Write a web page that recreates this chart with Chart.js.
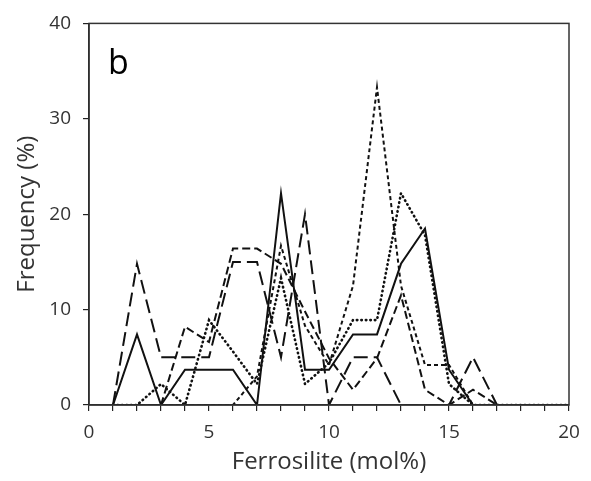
<!DOCTYPE html>
<html>
<head>
<meta charset="utf-8">
<script src="https://cdn.jsdelivr.net/npm/chart.js@4"></script>
<style>
  body { margin: 0; background: #fff; }
  canvas { display: block; }
</style>
</head>
<body>
<canvas id="chart" width="591" height="481"></canvas>
<script>
// Fs content (mol%) classes
const fsValues = [1, 2, 3, 4, 5, 6, 7, 8, 9, 10, 11, 12, 13, 14, 15, 16, 17, 18, 19, 20];

// frequency (%) per sample group
const solidSeries     = [0, 7.4, 0, 3.7, 3.7, 3.7, 0, 22.2, 3.7, 3.7, 7.4, 7.4, 14.8, 18.5, 3.7, 0, 0, 0, 0, 0];
const longDashSeries  = [0, 14.8, 5, 5, 5, 15, 15, 5, 20, 0, 5, 5, 0, 0, 0, 5, 0, 0, 0, 0];
const dashSeries      = [0, 0, 0, 8.2, 6.6, 16.4, 16.4, 14.8, 9.8, 4.9, 1.6, 4.9, 11.5, 1.6, 0, 1.6, 0, 0, 0, 0];
const shortDashSeries = [0, 0, 0, 0, 0, 0, 3, 16.7, 8.3, 4.2, 12.5, 33.3, 12.5, 4.2, 4.2, 0, 0, 0, 0, 0];
const dottedSeries    = [0, 0, 2.2, 0, 8.9, 5.6, 2.2, 13.3, 2.2, 4.4, 8.9, 8.9, 22.2, 17.8, 2.2, 0, 0, 0, 0, 0];

const xTicksMajor = [0, 5, 10, 15, 20];
const panelLabel = 'b';

const FONT = "'Open Sans', sans-serif";
const TEXT = '#333';

function pts(arr) {
    return arr.map((v, i) => ({ x: fsValues[i], y: v }));
}

function line(data, dash, width, cap) {
    return {
        data: pts(data),
        borderColor: '#111',
        borderWidth: width,
        borderDash: dash,
        borderCapStyle: cap || 'butt',
        pointRadius: 0,
        tension: 0,
        fill: false
    };
}

// box round the plot and the panel letter
const framePlugin = {
    id: 'frame',
    afterDraw(chart) {
        const { ctx, chartArea: a } = chart;
        ctx.save();
        ctx.strokeStyle = '#333';
        ctx.lineWidth = 1.5;
        ctx.strokeRect(a.left, a.top, a.right - a.left, a.bottom - a.top);
        ctx.fillStyle = '#000';
        ctx.font = '34px ' + FONT;
        ctx.textBaseline = 'alphabetic';
        ctx.fillText(panelLabel, a.left + 19, a.top + 51);
        ctx.restore();
    }
};

new Chart(document.getElementById('chart'), {
    type: 'line',
    data: {
        datasets: [
            line(solidSeries, [], 2),
            line(longDashSeries, [14, 6], 2),
            line(dashSeries, [8, 4], 2),
            line(shortDashSeries, [4, 3], 2),
            line(dottedSeries, [0.5, 4], 2.6, 'round')
        ]
    },
    options: {
        responsive: false,
        animation: false,
        layout: { padding: { top: 13, right: 22, bottom: 4, left: 13 } },
        plugins: { legend: { display: false }, tooltip: { enabled: false } },
        scales: {
            x: {
                type: 'linear',
                min: 0,
                max: 20,
                afterBuildTicks: s => {
                    s.ticks = [0].concat(fsValues).map(v => ({ value: v }));
                },
                ticks: {
                    autoSkip: false,
                    maxRotation: 0,
                    callback: v => xTicksMajor.includes(v) ? v : '',
                    color: TEXT,
                    font: { family: FONT, size: 19 },
                    padding: 10
                },
                grid: { drawOnChartArea: false, drawTicks: true, tickLength: 6, color: '#222', lineWidth: 1.2 },
                border: { color: '#222', width: 1.5 },
                title: { display: true, text: 'Ferrosilite (mol%)', color: TEXT, font: { family: FONT, size: 24 }, padding: { top: 0, bottom: 0 } },
                afterFit: s => { s.height = 72; }
            },
            y: {
                min: 0,
                max: 40,
                ticks: {
                    stepSize: 10,
                    color: TEXT,
                    font: { family: FONT, size: 19 },
                    padding: 12
                },
                grid: { drawOnChartArea: false, drawTicks: true, tickLength: 6, color: '#222', lineWidth: 1.2 },
                border: { color: '#222', width: 1.5 },
                title: { display: true, text: 'Frequency (%)', color: TEXT, font: { family: FONT, size: 24 }, padding: { top: 0, bottom: 0 } },
                afterFit: s => { s.width = 76; }
            }
        }
    },
    plugins: [framePlugin]
});
</script>
</body>
</html>
